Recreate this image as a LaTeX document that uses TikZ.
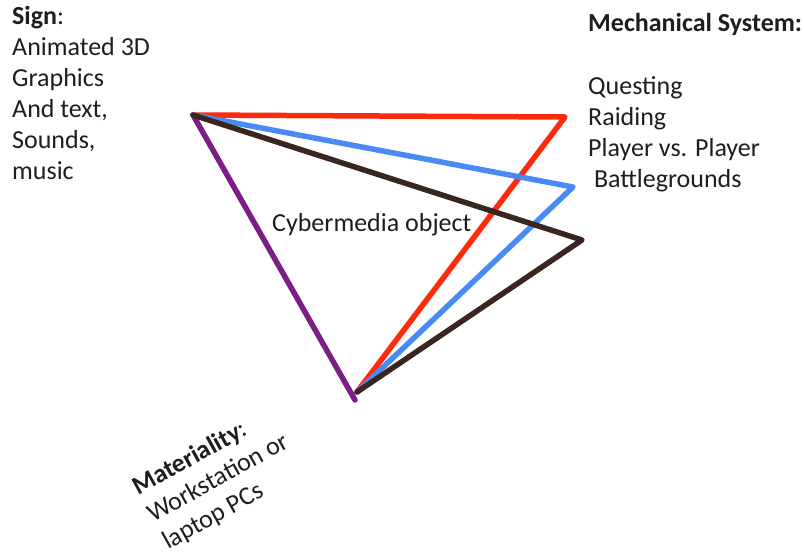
\documentclass[tikz,border=0pt]{standalone}
\usepackage{fontspec}
\setmainfont{Carlito}
\definecolor{cred}{HTML}{FF2A0A}
\definecolor{cblue}{HTML}{4A8AF4}
\definecolor{cbrown}{HTML}{3A2620}
\definecolor{cpurple}{HTML}{7B1E86}
\definecolor{ctext}{HTML}{1E1E1E}
\begin{document}
\begin{tikzpicture}[x=1pt,y=-1pt,
  lbl/.style={anchor=base west,inner sep=0pt,text=ctext,font=\fontsize{26}{31}\selectfont},
  edge/.style={line width=5.5pt,line cap=round,line join=round}]
\useasboundingbox (0,0) rectangle (804,556);
% vertices
\coordinate (A) at (193,115);
\coordinate (P) at (355,400);
\coordinate (B) at (357,392);
\coordinate (R) at (565,117);
\coordinate (U) at (573,187);
\coordinate (K) at (582,240);
% lines
\draw[edge,cpurple] (A) -- (P);
\draw[edge,cred] (A) -- (R) -- (B);
\draw[edge,cblue] (A) -- (U) -- (B);
\draw[edge,cbrown] (A) -- (K) -- (B);
% left text
\node[lbl] (s1) at (12,25) {\textbf{Sign}:};
\node[lbl] (s2) at (12,56) {Animated 3D};
\node[lbl] (s3) at (12,87) {Graphics};
\node[lbl] (s4) at (12,118) {And text,};
\node[lbl] (s5) at (12,149) {Sounds,};
\node[lbl] (s6) at (12,180) {music};
% right text
\node[lbl] (m1) at (588,32) {\textbf{Mechanical System:}};
\node[lbl] (m2) at (588,95) {Questing};
\node[lbl] (m3) at (588,126) {Raiding};
\node[lbl] (m4) at (588,157) {Player vs. Player};
\node[lbl] (m5) at (588,188) {\ Battlegrounds};
% center
\node[lbl] (c) at (272,232) {Cybermedia object};
% materiality
\node[lbl,rotate=29] (t1) at (138,496) {\textbf{Materiality}:};
\node[lbl,rotate=29] (t2) at (153,523) {Workstation or};
\node[lbl,rotate=29] (t3) at (168,550) {laptop PCs};
\end{tikzpicture}
\end{document}
